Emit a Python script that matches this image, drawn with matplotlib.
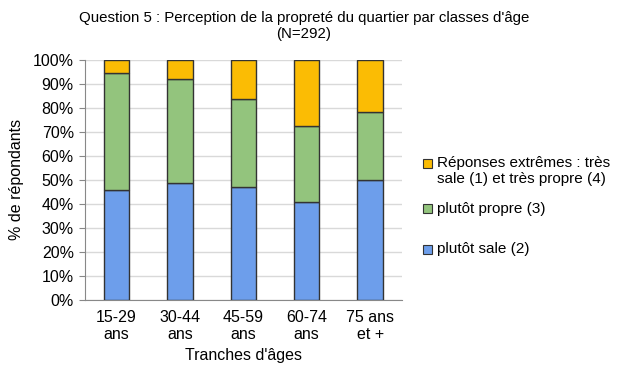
import matplotlib
matplotlib.use("Agg")
import matplotlib.pyplot as plt
from matplotlib.patches import Rectangle
import numpy as np

plt.rcParams['font.family'] = ['Liberation Sans', 'DejaVu Sans']

age_groups = ["15-29\nans", "30-44\nans", "45-59\nans", "60-74\nans", "75 ans\net +"]
plutot_sale = [45.7, 48.9, 47.2, 40.7, 49.9]
plutot_propre = [49.0, 43.2, 36.7, 31.7, 28.5]
extremes = [5.3, 7.9, 16.1, 27.6, 21.6]

c_blue = "#6D9EEB"
c_green = "#93C47D"
c_yellow = "#FBBC04"
edge = "#333333"

fig = plt.figure(figsize=(6.2, 3.72), dpi=100)
ax = fig.add_axes([0.137, 0.194, 0.511, 0.645])

x = np.arange(len(age_groups))
w = 0.4
b1 = ax.bar(x, plutot_sale, w, color=c_blue, edgecolor=edge, linewidth=1, label="plutôt sale (2)", zorder=3)
b2 = ax.bar(x, plutot_propre, w, bottom=plutot_sale, color=c_green, edgecolor=edge, linewidth=1,
            label="plutôt propre (3)", zorder=3)
bottom3 = np.array(plutot_sale) + np.array(plutot_propre)
b3 = ax.bar(x, extremes, w, bottom=bottom3, color=c_yellow, edgecolor=edge, linewidth=1,
            label="Réponses extrêmes : très\nsale (1) et très propre (4)", zorder=3)

ax.set_xlim(-0.5, len(age_groups) - 0.5)
ax.set_ylim(0, 100)
ax.set_yticks(range(0, 101, 10))
ax.set_yticklabels([f"{v}%" for v in range(0, 101, 10)], fontsize=11.5)
ax.set_xticks(x)
ax.set_xticklabels(age_groups, fontsize=11.5)
ax.tick_params(axis='x', length=0, pad=7)
ax.tick_params(axis='y', length=4, color="#888888", pad=4)
ax.yaxis.grid(True, color="#d9d9d9", linewidth=1, zorder=0)
for s in ["top", "right"]:
    ax.spines[s].set_visible(False)
for s in ["left", "bottom"]:
    ax.spines[s].set_color("#888888")

ax.set_ylabel("% de répondants", fontsize=11.5, labelpad=6)
ax.set_xlabel("Tranches d'âges", fontsize=11.5, labelpad=4)

fig.text(0.49, 0.93, "Question 5 : Perception de la propreté du quartier par classes d'âge\n(N=292)",
         ha="center", va="center", fontsize=10.8, linespacing=1.2)

# legend, drawn by hand to get the uneven spacing of the original
legend_items = [(b3, 1 - 163 / 372), (b2, 1 - 209 / 372), (b1, 1 - 249 / 372)]
for bars, ly in legend_items:
    patch = bars.patches[0]
    fig.add_artist(Rectangle((423 / 620, ly - 4.5 / 372), 9 / 620, 9 / 372, transform=fig.transFigure,
                             facecolor=patch.get_facecolor(), edgecolor=edge, linewidth=0.8))
    fig.text(437 / 620, ly + 7 / 372, bars.get_label(), ha="left", va="top", fontsize=11,
             linespacing=1.15)

fig.savefig("out.png", dpi=100)
